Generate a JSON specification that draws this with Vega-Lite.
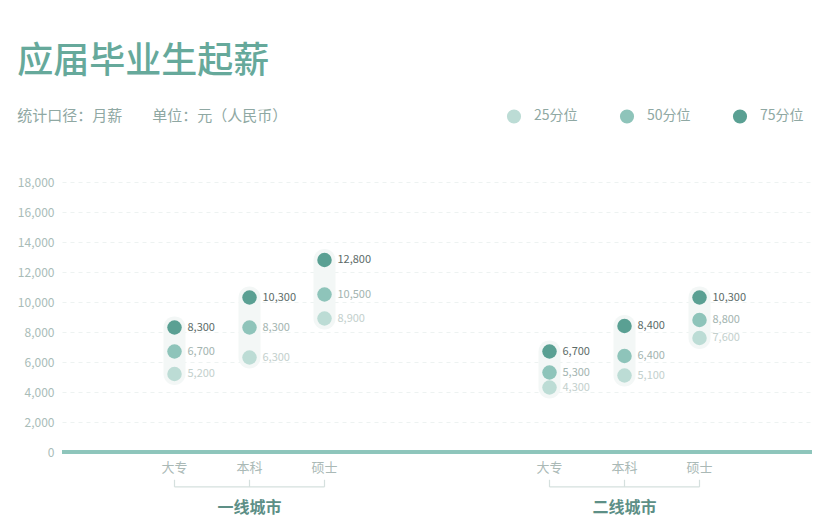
{
  "$schema": "https://vega.github.io/schema/vega-lite/v6.json",
  "autosize": {"type": "none"},
  "padding": {"left": 62, "top": 182, "right": 20, "bottom": 8},
  "width": 750,
  "height": 342,
  "title": {
    "text": "应届毕业生起薪",
    "subtitle": "统计口径：月薪\u3000\u3000单位：元（人民币）",
    "anchor": "start",
    "frame": "bounds",
    "fontSize": 36,
    "fontWeight": 500,
    "color": "#66a99b",
    "subtitleFontSize": 15,
    "subtitleColor": "#8fa8a3",
    "subtitlePadding": 28,
    "offset": -17
  },
  "data": {
    "values": [
      {"city": "一线城市", "degree": "大专", "p": "25分位", "v": 5200},
      {"city": "一线城市", "degree": "大专", "p": "50分位", "v": 6700},
      {"city": "一线城市", "degree": "大专", "p": "75分位", "v": 8300},
      {"city": "一线城市", "degree": "本科", "p": "25分位", "v": 6300},
      {"city": "一线城市", "degree": "本科", "p": "50分位", "v": 8300},
      {"city": "一线城市", "degree": "本科", "p": "75分位", "v": 10300},
      {"city": "一线城市", "degree": "硕士", "p": "25分位", "v": 8900},
      {"city": "一线城市", "degree": "硕士", "p": "50分位", "v": 10500},
      {"city": "一线城市", "degree": "硕士", "p": "75分位", "v": 12800},
      {"city": "二线城市", "degree": "大专", "p": "25分位", "v": 4300},
      {"city": "二线城市", "degree": "大专", "p": "50分位", "v": 5300},
      {"city": "二线城市", "degree": "大专", "p": "75分位", "v": 6700},
      {"city": "二线城市", "degree": "本科", "p": "25分位", "v": 5100},
      {"city": "二线城市", "degree": "本科", "p": "50分位", "v": 6400},
      {"city": "二线城市", "degree": "本科", "p": "75分位", "v": 8400},
      {"city": "二线城市", "degree": "硕士", "p": "25分位", "v": 7600},
      {"city": "二线城市", "degree": "硕士", "p": "50分位", "v": 8800},
      {"city": "二线城市", "degree": "硕士", "p": "75分位", "v": 10300}
    ]
  },
  "transform": [{"calculate": "datum.city + '|' + datum.degree", "as": "key"}],
  "layer": [
    {
      "transform": [
        {"aggregate": [{"op": "min", "field": "v", "as": "lo"}, {"op": "max", "field": "v", "as": "hi"}], "groupby": ["key"]}
      ],
      "mark": {"type": "rule", "strokeWidth": 22, "strokeCap": "round", "color": "#f3f7f6"},
      "encoding": {
        "x": {
          "field": "key",
          "type": "nominal",
          "axis": null,
          "scale": {
            "type": "point",
            "domain": ["g0", "一线城市|大专", "一线城市|本科", "一线城市|硕士", "g1", "g2", "二线城市|大专", "二线城市|本科", "二线城市|硕士", "g3"]
          }
        },
        "y": {
          "field": "lo",
          "type": "quantitative",
          "scale": {"domain": [-4800, 18000], "nice": false, "zero": false},
          "axis": {
            "title": null,
            "values": [0, 2000, 4000, 6000, 8000, 10000, 12000, 14000, 16000, 18000],
            "tickCount": 20,
            "format": ",d",
            "labelOverlap": false,
            "domain": false,
            "ticks": false,
            "labelPadding": 8,
            "labelFontSize": 12,
            "labelColor": "#a9bcb8",
            "grid": true,
            "gridColor": "#edf2f1",
            "gridDash": [4, 4]
          }
        },
        "y2": {"field": "hi"}
      }
    },
    {
      "mark": {"type": "rule", "color": "#8ec5bb", "strokeWidth": 3},
      "encoding": {"y": {"datum": 0, "type": "quantitative"}}
    },
    {
      "mark": {"type": "point", "filled": true, "opacity": 1, "shape": "circle", "size": 210},
      "encoding": {
        "x": {"field": "key", "type": "nominal"},
        "y": {"field": "v", "type": "quantitative"},
        "color": {
          "field": "p",
          "type": "nominal",
          "scale": {"domain": ["25分位", "50分位", "75分位"], "range": ["#bcdcd5", "#8ec4ba", "#5aa093"]},
          "legend": {
            "title": null,
            "orient": "none",
            "direction": "horizontal",
            "legendX": 444,
            "legendY": -74,
            "symbolType": "circle",
            "symbolSize": 200,
            "symbolOpacity": 1,
            "labelFontSize": 14,
            "labelColor": "#8fa8a3",
            "labelOffset": 12,
            "columnPadding": 41
          }
        }
      }
    },
    {
      "mark": {"type": "text", "align": "left", "dx": 13, "fontSize": 11},
      "encoding": {
        "x": {"field": "key", "type": "nominal"},
        "y": {"field": "v", "type": "quantitative"},
        "text": {"field": "v", "type": "quantitative", "format": ","},
        "color": {
          "condition": [
            {"test": "datum.p == '75分位'", "value": "#5c6b68"},
            {"test": "datum.p == '50分位'", "value": "#a3b4b0"}
          ],
          "value": "#c3d0cd"
        }
      }
    },
    {
      "transform": [{"filter": "datum.p == '25分位'"}],
      "mark": {"type": "text", "fontSize": 13, "color": "#aab9b6"},
      "encoding": {
        "x": {"field": "key", "type": "nominal"},
        "y": {"datum": -1070, "type": "quantitative"},
        "text": {"field": "degree"}
      }
    },
    {
      "transform": [{"filter": "datum.p == '25分位'"}],
      "mark": {"type": "line", "color": "#d5e0de", "strokeWidth": 1.2},
      "encoding": {
        "x": {"field": "key", "type": "nominal"},
        "y": {"datum": -2330, "type": "quantitative"},
        "detail": {"field": "city"}
      }
    },
    {
      "transform": [{"filter": "datum.p == '25分位'"}],
      "mark": {"type": "rule", "color": "#d5e0de", "strokeWidth": 1.2},
      "encoding": {
        "x": {"field": "key", "type": "nominal"},
        "y": {"datum": -2330, "type": "quantitative"},
        "y2": {"datum": -1850}
      }
    },
    {
      "transform": [{"filter": "datum.p == '25分位' && datum.degree == '本科'"}],
      "mark": {"type": "text", "fontSize": 16, "fontWeight": "bold", "color": "#5d8f86"},
      "encoding": {
        "x": {"field": "key", "type": "nominal"},
        "y": {"datum": -3700, "type": "quantitative"},
        "text": {"field": "city"}
      }
    }
  ],
  "config": {
    "font": "Noto Sans CJK SC",
    "view": {"stroke": null}
  }
}
